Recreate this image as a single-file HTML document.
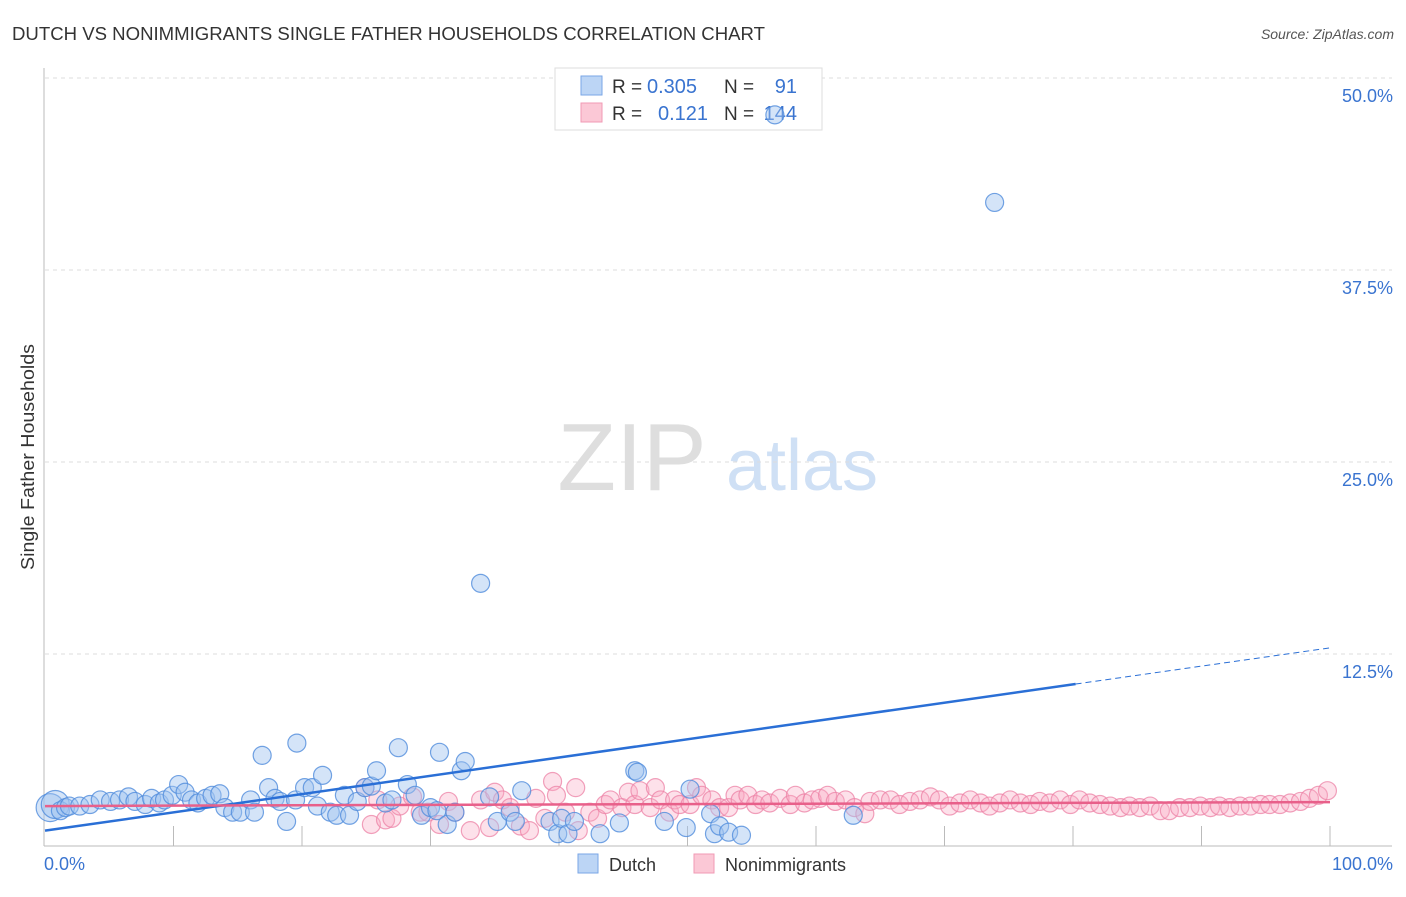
<!DOCTYPE html>
<html><head><meta charset="utf-8"><style>
body{margin:0;background:#fff;font-family:"Liberation Sans",sans-serif;}
svg text{font-family:"Liberation Sans",sans-serif;}
</style></head><body>
<svg id="chart" width="1406" height="892" xmlns="http://www.w3.org/2000/svg">
<text x="12" y="40" font-size="18" fill="#333" textLength="753" lengthAdjust="spacingAndGlyphs">DUTCH VS NONIMMIGRANTS SINGLE FATHER HOUSEHOLDS CORRELATION CHART</text>
<text x="1394" y="39" font-size="14" fill="#555" text-anchor="end" font-style="italic">Source: ZipAtlas.com</text>
<text transform="translate(34,457) rotate(-90)" font-size="18" fill="#333" text-anchor="middle" textLength="226" lengthAdjust="spacingAndGlyphs">Single Father Households</text>
<g>
<text x="632" y="490" font-size="96" fill="#dedede" text-anchor="middle" font-family="Liberation Serif, serif">ZIP</text>
<text x="802" y="490" font-size="72" fill="#cfe0f5" text-anchor="middle">atlas</text>
</g>
<g id="grid"></g><g id="axes"></g>
<g>
<rect x="555" y="68" width="267" height="62" fill="#fff" stroke="#ddd"/>
<rect x="581" y="76" width="21" height="19" fill="#bcd5f5" stroke="#7aa6e6"/>
<rect x="581" y="103" width="21" height="19" fill="#fbc8d6" stroke="#f09ab4"/>
<text x="612" y="93" font-size="19" fill="#333">R =</text>
<text x="647" y="93" font-size="20" fill="#3a74d0">0.305</text>
<text x="724" y="93" font-size="19" fill="#333">N =</text>
<text x="797" y="93" font-size="20" fill="#3a74d0" text-anchor="end">91</text>
<text x="612" y="120" font-size="19" fill="#333">R =</text>
<text x="658" y="120" font-size="20" fill="#3a74d0">0.121</text>
<text x="724" y="120" font-size="19" fill="#333">N =</text>
<text x="797" y="120" font-size="20" fill="#3a74d0" text-anchor="end">144</text>
</g>
<g id="pts"></g><g id="trend"></g>
<g>
<rect x="578" y="854" width="20" height="19" fill="#bcd5f5" stroke="#7aa6e6"/>
<text x="609" y="871" font-size="18" fill="#333">Dutch</text>
<rect x="694" y="854" width="20" height="19" fill="#fbc8d6" stroke="#f09ab4"/>
<text x="725" y="871" font-size="18" fill="#333">Nonimmigrants</text>
</g>
</svg>
<script>
const yTicks=[12.5,25,37.5,50];
const yTickLabels=["12.5%","25.0%","37.5%","50.0%"];
const xTickLabels=["0.0%","100.0%"];
const dutchX=[0.4,0.8,1.2,1.6,1.9,2.7,3.5,4.3,5.1,5.8,6.5,7.0,7.8,8.3,8.9,9.3,9.9,10.4,10.9,11.4,11.9,12.5,13.0,13.6,14.0,14.6,15.2,16.0,16.3,16.9,17.4,17.9,18.3,18.8,19.5,19.6,20.2,20.8,21.2,21.6,22.2,22.7,23.3,23.7,24.3,24.9,25.4,25.8,26.5,27.0,27.5,28.2,28.8,29.3,30.0,30.5,30.7,31.3,31.9,32.4,32.7,33.9,34.6,35.2,36.2,36.6,37.1,39.3,39.9,40.2,40.7,41.2,43.2,44.7,45.9,46.1,48.2,49.9,50.2,51.8,52.1,52.5,53.2,54.2,56.8,62.9,73.9];
const dutchY=[2.5,2.7,2.3,2.5,2.6,2.6,2.7,3.0,2.9,3.0,3.2,2.9,2.7,3.1,2.8,3.0,3.3,4.0,3.5,3.0,2.8,3.1,3.3,3.4,2.5,2.2,2.2,3.0,2.2,5.9,3.8,3.1,2.9,1.6,3.0,6.7,3.8,3.8,2.6,4.6,2.2,2.0,3.3,2.0,2.9,3.8,3.9,4.9,2.8,3.0,6.4,4.0,3.3,2.0,2.5,2.3,6.1,1.4,2.2,4.9,5.5,17.1,3.2,1.6,2.2,1.6,3.6,1.6,0.8,1.8,0.8,1.6,0.8,1.5,4.9,4.8,1.6,1.2,3.7,2.1,0.8,1.3,0.9,0.7,47.6,2.0,41.9];
const nonX=[24.9,25.4,25.9,26.5,27.0,27.6,28.6,29.2,29.8,30.7,31.4,31.9,33.1,33.9,34.6,35.0,35.6,36.2,37.0,37.7,38.2,38.9,39.5,39.8,40.5,41.3,41.5,42.4,43.0,43.6,44.0,44.9,45.4,45.9,46.3,47.1,47.5,47.9,48.6,49.0,49.4,50.2,50.7,51.1,51.9,52.5,53.2,53.7,54.1,54.7,55.3,55.8,56.4,57.2,58.0,58.4,59.1,59.7,60.3,60.9,61.5,62.3,63.0,63.8,64.2,65.0,65.8,66.5,67.3,68.1,68.9,69.6,70.4,71.2,72.0,72.8,73.5,74.3,75.1,75.9,76.7,77.4,78.2,79.0,79.8,80.5,81.3,82.1,82.9,83.7,84.4,85.2,86.0,86.8,87.5,88.3,89.1,89.9,90.7,91.4,92.2,93.0,93.8,94.6,95.3,96.1,96.9,97.7,98.4,99.1,99.8];
const nonY=[3.8,1.4,3.0,1.7,1.8,2.6,3.2,2.2,2.2,1.4,2.9,2.2,1.0,3.0,1.2,3.5,3.0,2.5,1.3,1.0,3.1,1.8,4.2,3.3,2.2,3.8,1.0,2.2,1.8,2.7,3.0,2.5,3.5,2.7,3.6,2.5,3.8,3.0,2.2,3.0,2.7,2.7,3.8,3.3,3.0,2.5,2.5,3.3,3.0,3.3,2.7,3.0,2.8,3.1,2.7,3.3,2.8,3.0,3.1,3.3,2.9,3.0,2.5,2.1,2.9,3.0,3.0,2.7,2.9,3.0,3.2,3.0,2.6,2.8,3.0,2.8,2.6,2.8,3.0,2.8,2.7,2.9,2.8,3.0,2.7,3.0,2.8,2.7,2.6,2.5,2.6,2.5,2.6,2.3,2.3,2.5,2.5,2.6,2.5,2.6,2.5,2.6,2.6,2.7,2.7,2.7,2.8,2.9,3.1,3.3,3.6];
const dutchTrend=[1.0,0.119]; // intercept, slope
const nonTrend=[2.6,0.0026];
const solidEnd=80.2;

const NS="http://www.w3.org/2000/svg";
const X0=45,X1=1330,Y0=846,PY=15.36;
const sx=v=>X0+(X1-X0)*v/100, sy=v=>Y0-v*PY;
function mk(p,tag,at){const e=document.createElementNS(NS,tag);for(const k in at)e.setAttribute(k,at[k]);document.getElementById(p).appendChild(e);return e;}
yTicks.forEach((t,i)=>{
 const l=mk('grid','line',{x1:X0,x2:1392,y1:sy(t),y2:sy(t),stroke:'#ddd','stroke-dasharray':'4,4'});
 
 
 const tx=mk('grid','text',{x:1393,y:sy(t)+24,'font-size':18,fill:'#3a74d0','text-anchor':'end'});
 tx.textContent=yTickLabels[i];
 
 
});
const ax=mk('axes','line',{x1:44,x2:44,y1:68,y2:Y0,stroke:'#bbb'});


const bx=mk('axes','line',{x1:44,x2:1392,y1:Y0,y2:Y0,stroke:'#bbb'});


for(let i=1;i<=10;i++){const t=mk('axes','line',{x1:sx(i*10),x2:sx(i*10),y1:826,y2:Y0,stroke:'#bbb'});
 
 }
[[0,'start',44],[100,'end',1393]].forEach((d,i)=>{const t=mk('axes','text',{x:d[2],y:870,'font-size':18,fill:'#3a74d0','text-anchor':d[1]});t.textContent=xTickLabels[i];
 
 });
nonX.forEach((x,i)=>{const c=mk('pts','circle',{cx:sx(x),cy:sy(nonY[i]),r:9,fill:'rgba(248,170,195,0.35)',stroke:'rgba(236,130,165,0.75)','stroke-width':1.2});
 
 });
dutchX.forEach((x,i)=>{const c=mk('pts','circle',{cx:sx(x),cy:sy(dutchY[i]),r:i<2?14:9,fill:'rgba(160,196,240,0.45)',stroke:'rgba(80,140,220,0.8)','stroke-width':1.2});
 
 });
const f=(t,x)=>t[0]+t[1]*x;
const d1=mk('trend','line',{x1:sx(0),y1:sy(f(dutchTrend,0)),x2:sx(solidEnd),y2:sy(f(dutchTrend,solidEnd)),stroke:'#2a6fd6','stroke-width':2.5});


const d2=mk('trend','line',{x1:sx(solidEnd),y1:sy(f(dutchTrend,solidEnd)),x2:sx(100),y2:sy(f(dutchTrend,100)),stroke:'#2a6fd6','stroke-width':1,'stroke-dasharray':'6,4'});


const p1=mk('trend','line',{x1:sx(0),y1:sy(f(nonTrend,0)),x2:sx(100),y2:sy(f(nonTrend,100)),stroke:'#e8608a','stroke-width':2.5});


</script>
</body></html>
